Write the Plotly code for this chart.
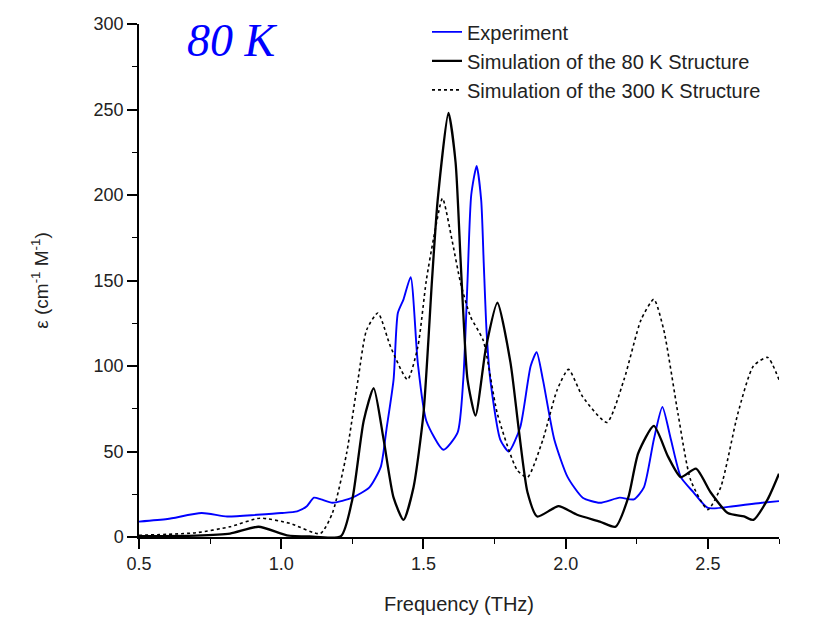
import plotly.graph_objects as go

# Experiment (blue)
exp_f = [0.5, 0.6, 0.72, 0.81, 0.915, 1.0, 1.056, 1.09, 1.115, 1.14, 1.18, 1.25, 1.31, 1.35, 1.37, 1.395, 1.41,
         1.43, 1.455, 1.48, 1.51, 1.57, 1.62, 1.64, 1.655, 1.668, 1.687, 1.703, 1.712, 1.722, 1.735, 1.77,
         1.8, 1.84, 1.877, 1.898, 1.92, 1.96, 2.007, 2.06, 2.12, 2.19, 2.24, 2.275, 2.31, 2.34, 2.37, 2.405,
         2.45, 2.5, 2.59, 2.69, 2.75]
exp_v = [9, 10.5, 14, 12, 13, 14, 15, 18, 23, 22, 20, 23, 29, 41, 63, 92, 131,
         139, 152, 102, 68, 51, 61, 92, 150, 200, 217, 197, 160, 120, 92, 57,
         50, 64, 100, 108, 92, 57, 35, 23, 20, 23, 22, 29, 57, 76, 57, 35,
         26, 17, 18, 20, 21]

# Simulation of the 80 K structure (black solid)
s80_f = [0.5, 0.7, 0.82, 0.92, 1.02, 1.1, 1.21, 1.25, 1.29, 1.325, 1.36, 1.395, 1.43, 1.465, 1.5, 1.53,
         1.55, 1.588, 1.613, 1.63, 1.64, 1.655, 1.683, 1.72, 1.76, 1.806, 1.835, 1.866, 1.9, 1.975, 2.04,
         2.12, 2.175, 2.22, 2.255, 2.31, 2.36, 2.405, 2.458, 2.51, 2.57, 2.627, 2.66, 2.71, 2.75]
s80_v = [0.5, 0.8, 2, 6, 1, 0.3, 0.5, 22, 68, 87, 57, 23, 10, 29, 72, 150,
         197, 248, 219, 164, 131, 92, 71, 111, 137, 102, 63, 26, 12, 18, 13,
         9, 6, 23, 49, 65, 47, 35, 40, 26, 14, 12, 10, 22, 37]

# Simulation of the 300 K structure (black dotted)
s300_f = [0.5, 0.7, 0.82, 0.925, 1.03, 1.137, 1.18, 1.23, 1.27, 1.3, 1.34, 1.385, 1.444, 1.48, 1.51, 1.535,
          1.567, 1.6, 1.63, 1.665, 1.71, 1.76, 1.83, 1.866, 1.92, 1.97, 2.01, 2.06, 2.145, 2.205, 2.265,
          2.31, 2.345, 2.395, 2.44, 2.5, 2.545, 2.605, 2.66, 2.71, 2.75]
s300_v = [1, 2.5, 6, 11, 8, 2, 14, 49, 92, 121, 131, 111, 92, 111, 150, 174,
          198, 174, 149, 129, 115, 72, 39, 35, 57, 86, 98, 82, 67, 92, 127,
          139, 121, 72, 33, 16, 29, 72, 100, 105, 92]

x_ticks = [0.5, 1.0, 1.5, 2.0, 2.5]
x_ticklabels = ["0.5", "1.0", "1.5", "2.0", "2.5"]
y_ticks = [0, 50, 100, 150, 200, 250, 300]

font_fam = "Liberation Sans, Arial, sans-serif"

fig = go.Figure()
fig.add_trace(go.Scatter(x=exp_f, y=exp_v, mode="lines", name="Experiment",
                         line=dict(color="#0000ff", width=1.9, shape="spline", smoothing=0.6)))
fig.add_trace(go.Scatter(x=s80_f, y=s80_v, mode="lines", name="Simulation of the 80 K Structure",
                         line=dict(color="#000000", width=2.3, shape="spline", smoothing=0.6)))
fig.add_trace(go.Scatter(x=s300_f, y=s300_v, mode="lines", name="Simulation of the 300 K Structure",
                         line=dict(color="#000000", width=1.6, dash="dot", shape="spline", smoothing=0.6)))

fig.update_layout(
    width=819, height=619,
    margin=dict(l=139, r=40, t=24, b=82, autoexpand=False),
    plot_bgcolor="white", paper_bgcolor="white",
    font=dict(family=font_fam, color="#222222", size=18),
    showlegend=True,
    legend=dict(x=0.45, y=0.98, xanchor="left", yanchor="top", yref="container",
                bgcolor="rgba(0,0,0,0)",
                font=dict(size=20, color="#222222", family=font_fam), tracegroupgap=0),
    annotations=[dict(text="<i>80 K</i>", x=0.146, y=0.967, xref="paper", yref="paper",
                      xanchor="center", yanchor="middle", showarrow=False,
                      font=dict(family="Liberation Serif, serif", size=46, color="#0000ff"))],
)
fig.update_xaxes(range=[0.5, 2.75], tickvals=x_ticks, ticktext=x_ticklabels, automargin=False,
                 showline=True, linecolor="black", linewidth=1.5, ticks="outside", ticklen=10,
                 tickwidth=1.5, tickcolor="black", showgrid=False, zeroline=False,
                 minor=dict(dtick=0.25, ticks="outside", ticklen=5, tickcolor="black", tickwidth=1),
                 title=dict(text="Frequency (THz)", font=dict(size=20), standoff=24),
                 tickfont=dict(size=18))
fig.update_yaxes(range=[0, 300], tickvals=y_ticks, automargin=False,
                 showline=True, linecolor="black", linewidth=1.5, ticks="outside", ticklen=10,
                 tickwidth=1.5, tickcolor="black", showgrid=False, zeroline=False,
                 minor=dict(dtick=25, ticks="outside", ticklen=5, tickcolor="black", tickwidth=1),
                 title=dict(text="ε (cm<sup>-1</sup> M<sup>-1</sup>)", font=dict(size=19), standoff=40),
                 tickfont=dict(size=18))

fig.write_html("out.html")
